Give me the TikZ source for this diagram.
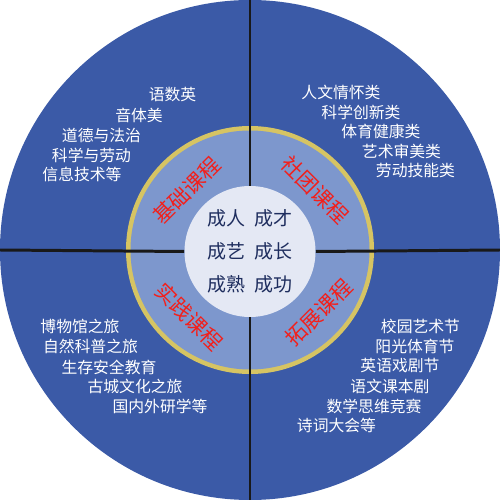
\documentclass[tikz,border=0pt]{standalone}
\usepackage{fontspec}
\setmainfont{Noto Sans CJK SC}
\usepackage{xcolor}
\definecolor{disc}{HTML}{3B5AA7}
\definecolor{band}{HTML}{7D97CD}
\definecolor{rim}{HTML}{D6C463}
\definecolor{hub}{HTML}{E4E8F4}
\definecolor{hubtext}{HTML}{1E2D5E}
\definecolor{tag}{HTML}{F2201C}
\tikzstyle{item}=[text=white, inner sep=0pt, font=\fontsize{9}{9}\selectfont]

\begin{document}
\begin{tikzpicture}[ring/.style={circle, inner sep=0pt},
	course/.style={text=tag, inner sep=0pt, font=\fontsize{12}{12}\selectfont},
	divider/.style={line width=1.7pt, color=black!90}]
		\useasboundingbox (-5,-5) rectangle (5,5);
		\node[ring, fill=disc, minimum size=10cm] (outer) at (0,0) {};
		\node[ring, fill=rim, minimum size=4.96cm] (gold) at (0,0) {};
		\node[ring, fill=band, minimum size=4.78cm] (inner) at (0,0) {};
		\node[ring, fill=hub, minimum size=2.62cm, align=center, text=hubtext,
			font=\fontsize{10.8}{18.7}\selectfont] (core) at (0,-0.03)
			{成人\hspace{0.45em}成才\\成艺\hspace{0.45em}成长\\成熟\hspace{0.45em}成功};
		\draw[divider] (core.north) -- (outer.north);
		\draw[divider] (core.south) -- (outer.south);
		\draw[divider] (core.west) -- (outer.west);
		\draw[divider] (core.east) -- (outer.east);
		\node[course, rotate=45] (jichu) at (-1.26,1.19) {基础课程};
		\node[course, rotate=-45] (shetuan) at (1.30,1.20) {社团课程};
		\node[course, rotate=-45] (shijian) at (-1.21,-1.33) {实践课程};
		\node[course, rotate=45] (tuozhan) at (1.38,-1.25) {拓展课程};
		\node[item] (tl1) at (-1.55,3.10) {语数英};
		\node[item] (tl2) at (-2.22,2.70) {音体美};
		\node[item] (tl3) at (-2.97,2.30) {道德与法治};
		\node[item] (tl4) at (-3.17,1.90) {科学与劳动};
		\node[item] (tl5) at (-3.36,1.52) {信息技术等};
		\node[item] (tr1) at (1.82,3.15) {人文情怀类};
		\node[item] (tr2) at (2.22,2.75) {科学创新类};
		\node[item] (tr3) at (2.62,2.37) {体育健康类};
		\node[item] (tr4) at (3.03,1.98) {艺术审美类};
		\node[item] (tr5) at (3.31,1.60) {劳动技能类};
		\node[item] (bl1) at (-3.40,-1.53) {博物馆之旅};
		\node[item] (bl2) at (-3.19,-1.93) {自然科普之旅};
		\node[item] (bl3) at (-2.82,-2.34) {生存安全教育};
		\node[item] (bl4) at (-2.30,-2.73) {古城文化之旅};
		\node[item] (bl5) at (-1.80,-3.12) {国内外研学等};
		\node[item] (br1) at (3.41,-1.53) {校园艺术节};
		\node[item] (br2) at (3.30,-1.93) {阳光体育节};
		\node[item] (br3) at (3.00,-2.32) {英语戏剧节};
		\node[item] (br4) at (2.80,-2.72) {语文课本剧};
		\node[item] (br5) at (2.48,-3.12) {数学思维竞赛};
		\node[item] (br6) at (1.73,-3.50) {诗词大会等};
	\end{tikzpicture}
\end{document}
